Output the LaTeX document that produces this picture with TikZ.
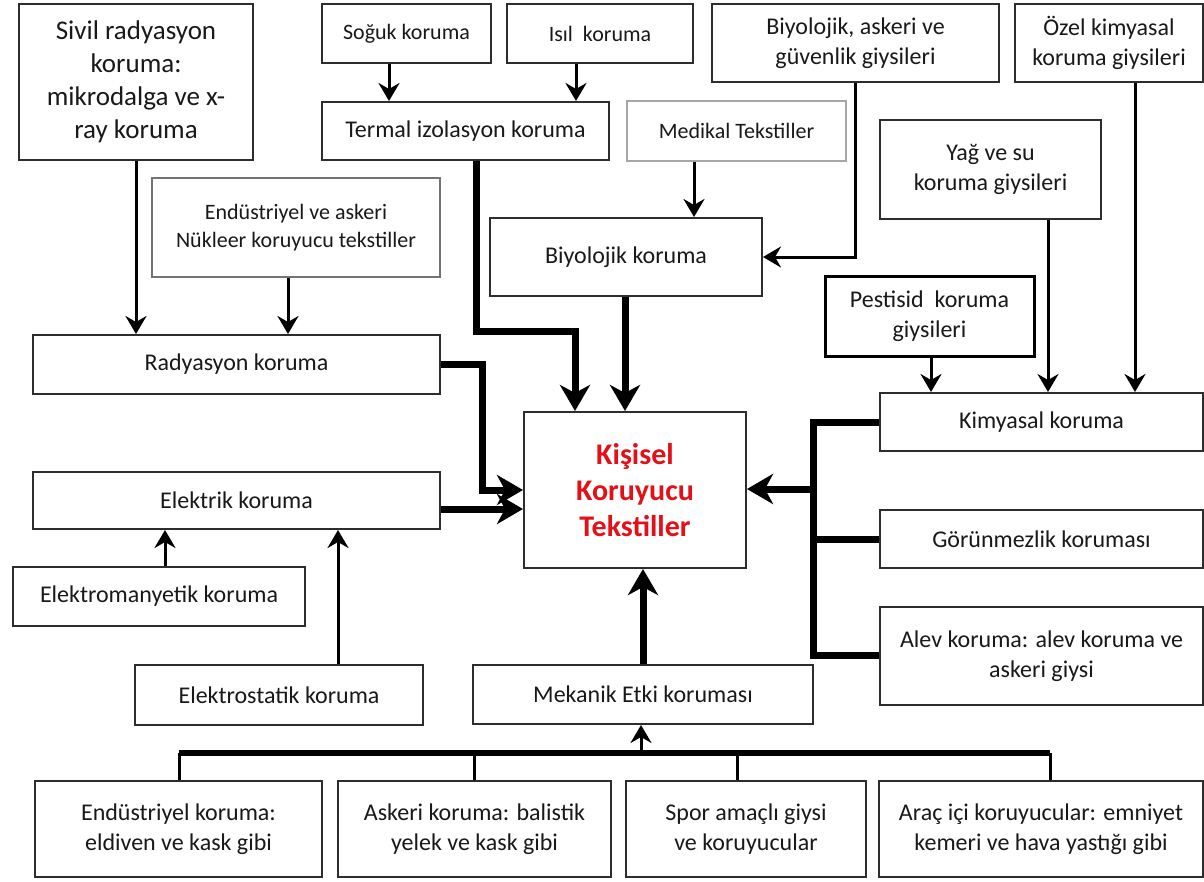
\documentclass[tikz,border=0pt]{standalone}
\usepackage{fontspec}
\setmainfont{Carlito}
\usetikzlibrary{arrows.meta}
\definecolor{cline}{RGB}{45,45,45}
\definecolor{ctext}{RGB}{25,25,25}
\definecolor{cred}{RGB}{228,16,24}
\tikzset{kkt/.style={x=1pt,y=-1pt,font=\fontsize{24}{30}\selectfont,text=ctext},
  kbox/.style={draw=cline,line width=2pt,align=center,inner sep=0pt,fill=white},
  sz/.style 2 args={minimum width=#1,minimum height=#2},
  small/.style={font=\fontsize{22}{28}\selectfont},
  thinarr/.style={line width=3pt,-{Stealth[length=18pt,width=21pt,inset=6pt]}},
  fatarr/.style={line width=7pt,-{Stealth[length=26pt,width=30pt,inset=8pt]}}}

\begin{document}
\begin{tikzpicture}[kkt]
    \useasboundingbox (0,0) rectangle (1204,881);
    % top row
    \node[kbox,sz={234}{156},font=\fontsize{27}{33}\selectfont] (sivil) at (136,82)
      {Sivil radyasyon\\koruma:\\mikrodalga ve x-\\ray koruma};
    \node[kbox,sz={169}{59},small] (soguk) at (406.5,33.5) {Soğuk koruma};
    \node[kbox,sz={186}{59},small] (isil) at (600,33.5) {Isıl\ \ koruma};
    \node[kbox,sz={287}{78}] (bioask) at (855.5,43) {Biyolojik, askeri ve\\güvenlik giysileri};
    \node[kbox,sz={188}{78}] (ozel) at (1109,43) {Özel kimyasal\\koruma giysileri};
    \node[kbox,sz={287}{58}] (termal) at (465.5,131) {Termal izolasyon koruma};
    \node[kbox,sz={219}{60},small,draw=black!35] (medikal) at (736.5,131) {Medikal Tekstiller};
    \node[kbox,sz={288}{99},small,draw=black!55] (nukleer) at (296,227.5)
      {Endüstriyel ve askeri\\Nükleer koruyucu tekstiller};
    \node[kbox,sz={272}{78}] (biyo) at (626,257) {Biyolojik koruma};
    \node[kbox,sz={221}{99}] (yag) at (990.5,169.5) {Yağ ve su\\koruma giysileri};
    \node[kbox,sz={209}{80},draw=black,line width=3pt] (pest) at (929.5,316) {Pestisid\ \ koruma\\giysileri};
    % middle
    \node[kbox,sz={407}{59}] (rad) at (236.5,364.5) {Radyasyon koruma};
    \node[kbox,sz={407}{57}] (elek) at (236.5,500.5) {Elektrik koruma};
    \node[kbox,sz={292}{59}] (emag) at (159,596.5) {Elektromanyetik koruma};
    \node[kbox,sz={288}{60}] (estat) at (279,695) {Elektrostatik koruma};
    \node[kbox,sz={222}{156},text=cred,font=\bfseries\fontsize{30}{36}\selectfont] (kkt) at (635,490)
      {Kişisel\\Koruyucu\\Tekstiller};
    \node[kbox,sz={340}{59}] (mek) at (643,694.5) {Mekanik Etki koruması};
    \node[kbox,sz={323}{58}] (kim) at (1041.5,422) {Kimyasal koruma};
    \node[kbox,sz={323}{58}] (gor) at (1041.5,539) {Görünmezlik koruması};
    \node[kbox,sz={323}{98}] (alev) at (1041.5,656) {Alev koruma: alev koruma ve\\askeri giysi};
    % bottom row
    \node[kbox,sz={287}{96}] (endk) at (178.5,829) {Endüstriyel koruma:\\eldiven ve kask gibi};
    \node[kbox,sz={273}{96}] (askk) at (474.5,829) {Askeri koruma: balistik\\yelek ve kask gibi};
    \node[kbox,sz={240}{96}] (spor) at (746,829) {Spor amaçlı giysi\\ve koruyucular};
    \node[kbox,sz={324}{96}] (arac) at (1041,829) {Araç içi koruyucular: emniyet\\kemeri ve hava yastığı gibi};
    % thin arrows
    \draw[thinarr] (soguk.south -| 389,0) -- (termal.north -| 389,0);
    \draw[thinarr] (isil.south -| 576,0) -- (termal.north -| 576,0);
    \draw[thinarr] (sivil.south -| 136,0) -- (rad.north -| 136,0);
    \draw[thinarr] (nukleer.south -| 288,0) -- (rad.north -| 288,0);
    \draw[thinarr] (medikal.south -| 694,0) -- (biyo.north -| 694,0);
    \draw[thinarr] (bioask.south -| 855,0) |- (biyo.east);
    \draw[thinarr] (emag.north -| 165,0) -- (elek.south -| 165,0);
    \draw[thinarr] (estat.north -| 338,0) -- (elek.south -| 338,0);
    \draw[thinarr] (pest.south -| 931,0) -- (kim.north -| 931,0);
    \draw[thinarr] (yag.south -| 1048,0) -- (kim.north -| 1048,0);
    \draw[thinarr] (ozel.south -| 1135,0) -- (kim.north -| 1135,0);
    % thick arrows into the centre
    \draw[fatarr] (termal.south -| 476,0) -- (476,331) -| (kkt.north -| 575,0);
    \draw[fatarr] (biyo.south -| 625,0) -- (kkt.north -| 625,0);
    \draw[fatarr] (rad.east) -| (482,490) -- (kkt.west);
    \draw[fatarr] (elek.east |- 0,509) -- (kkt.west |- 0,509);
    \draw[fatarr] (mek.north) -- (kkt.south -| mek.north);
    \coordinate (rbus) at (813,489);
    \draw[line width=7pt] (kim.west) -| (rbus |- 0,655) -- (alev.west |- 0,655);
    \draw[line width=7pt] (gor.west) -- (gor.west -| rbus);
    \draw[fatarr] (rbus) -- (kkt.east |- rbus);
    % bottom bus
    \coordinate (bbus) at (641,753);
    \draw[line width=6pt] (179,753) -- (1050,753);
    \foreach \n/\x in {endk/179,askk/474,spor/737,arac/1050}
      \draw[line width=3pt] (\n.north -| \x,0) -- (\x,753);
    \draw[thinarr] (bbus) -- (mek.south -| bbus);
\end{tikzpicture}
\end{document}
